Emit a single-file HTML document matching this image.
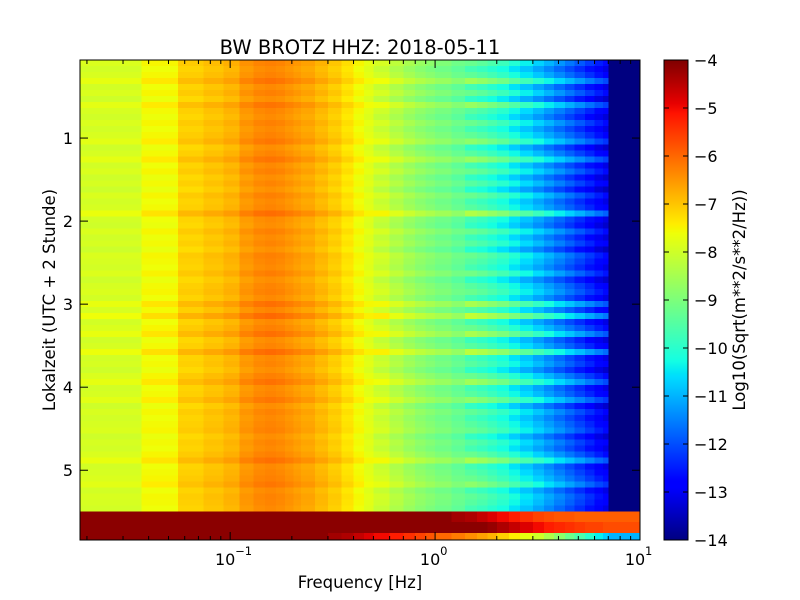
<!DOCTYPE html>
<html><head><meta charset="utf-8"><style>
body{margin:0;background:#fff;}
svg{display:block;font-family:"DejaVu Sans","Liberation Sans",sans-serif;}
</style></head><body>
<svg id="chart" width="800" height="600" xmlns="http://www.w3.org/2000/svg">
<rect width="800" height="600" fill="#fff"/>
<g id="cells" shape-rendering="crispEdges"></g>
<g id="cbar" shape-rendering="crispEdges"></g>
<g id="axes"></g>
<text x="360" y="54" font-size="19.5" text-anchor="middle">BW BROTZ HHZ: 2018-05-11</text>
<text x="360" y="588" font-size="16.5" text-anchor="middle">Frequency [Hz]</text>
<text transform="translate(55,300) rotate(-90)" font-size="16.5" text-anchor="middle">Lokalzeit (UTC + 2 Stunde)</text>
<text transform="translate(745,300) rotate(-90)" font-size="16.5" text-anchor="middle">Log10(Sqrt(m**2/s**2/Hz))</text>
</svg>
<script>
// ---- data ----
const freqEdges=[0.0185,0.037,0.0556,0.0742,0.0927,0.111,0.130,0.148,0.167,0.185,0.204,0.222,0.26,0.3,0.35,0.4,0.45,0.5,0.6,0.7,0.8,0.9,1.0,1.2,1.4,1.6,1.8,2.0,2.3,2.6,3.0,3.4,3.8,4.3,4.8,5.4,6.0,6.6,7.0,10];
const specVals=[-7.9,-7.55,-7.1,-6.95,-6.8,-6.5,-6.35,-6.3,-6.35,-6.45,-6.55,-6.65,-6.85,-7.05,-7.3,-7.55,-7.75,-8.0,-8.3,-8.55,-8.75,-8.9,-9.05,-9.25,-9.45,-9.6,-9.8,-10.0,-10.3,-10.6,-10.9,-11.2,-11.5,-11.8,-12.1,-12.4,-12.7,-12.9,-14.0];
const rowOffsets=[0.1,-0.1,0.05,0.4,-0.1,0.1,-0.2,0.35,0.0,-0.15,0.1,-0.1,0.05,0.3,-0.2,0.0,0.35,-0.1,0.1,-0.2,0.0,-0.25,0.1,-0.1,0.0,0.5,-0.1,-0.2,0.1,-0.15,0.0,-0.25,0.1,0.0,-0.1,0.15,-0.2,0.0,0.1,-0.1,0.45,0.0,0.6,-0.1,0.1,0.45,-0.15,0.0,0.55,-0.1,0.0,-0.2,0.1,0.4,-0.1,0.0,0.3,-0.2,0.05,-0.1,0.0,0.1,-0.2,0.0,-0.1,0.1,0.45,-0.1,0.0,0.1,0.3,-0.1,0.05,0.0,-0.1];
const bandA1=[-4.1,-4.1,-4.1,-4.1,-4.1,-4.1,-4.1,-4.1,-4.1,-4.1,-4.1,-4.1,-4.1,-4.1,-4.1,-4.1,-4.1,-4.1,-4.1,-4.1,-4.1,-4.1,-4.1,-4.3,-4.4,-4.6,-4.8,-5.0,-5.2,-5.4,-5.6,-5.7,-5.8,-5.8,-5.9,-5.9,-5.9,-5.9,-5.9];
const bandA2=[-4.1,-4.1,-4.1,-4.1,-4.1,-4.1,-4.1,-4.1,-4.1,-4.1,-4.1,-4.1,-4.1,-4.1,-4.1,-4.1,-4.1,-4.1,-4.1,-4.1,-4.1,-4.1,-4.1,-4.1,-4.1,-4.1,-4.2,-4.4,-4.6,-4.8,-5.0,-5.2,-5.3,-5.4,-5.5,-5.6,-5.6,-5.7,-5.7];
const bandB=[-4.1,-4.1,-4.1,-4.1,-4.1,-4.1,-4.1,-4.1,-4.1,-4.1,-4.1,-4.1,-4.1,-4.3,-4.4,-4.6,-4.8,-5.0,-5.2,-5.4,-5.6,-5.8,-6.0,-6.2,-6.4,-6.6,-6.8,-7.1,-7.4,-7.7,-8.0,-8.4,-8.8,-9.2,-9.6,-10.0,-10.4,-10.7,-11.0];
const yTicks=[1,2,3,4,5];
const cbTicks=[-4,-5,-6,-7,-8,-9,-10,-11,-12,-13,-14];
const xMajor=[0.1,1,10];
const xMajorLabels=["-1","0","1"];
// ---- scales ----
const X0=80,X1=640,Y0=60,Y1=540;
const fMin=0.0185,fMax=10,tMin=0.06,tMax=5.84,rowDt=0.0725,vMin=-14,vMax=-4;
const xs=f=>X0+(Math.log10(f)-Math.log10(fMin))/(Math.log10(fMax)-Math.log10(fMin))*(X1-X0);
const ys=t=>Y0+(t-tMin)/(tMax-tMin)*(Y1-Y0);
function interp(x,pts){for(let i=1;i<pts.length;i++){if(x<=pts[i][0]){const a=pts[i-1],b=pts[i];return a[1]+(b[1]-a[1])*(x-a[0])/(b[0]-a[0]);}}return pts[pts.length-1][1];}
const JR=[[0,0],[0.35,0],[0.66,1],[0.89,1],[1,0.5]];
const JG=[[0,0],[0.125,0],[0.375,1],[0.64,1],[0.91,0],[1,0]];
const JB=[[0,0.5],[0.11,1],[0.34,1],[0.65,0],[1,0]];
function jet(v){let x=(v-vMin)/(vMax-vMin);x=Math.max(0,Math.min(1,x));
 return `rgb(${Math.round(255*interp(x,JR))},${Math.round(255*interp(x,JG))},${Math.round(255*interp(x,JB))})`;}
const NS="http://www.w3.org/2000/svg";
function mk(tag,attrs,parent){const e=document.createElementNS(NS,tag);for(const k in attrs)e.setAttribute(k,attrs[k]);parent.appendChild(e);return e;}
const cells=document.getElementById('cells');
function drawRow(t0,t1,vals,off){
 for(let j=0;j<vals.length;j++){
  const xa=xs(freqEdges[j]),xb=xs(freqEdges[j+1]);
  const f=freqEdges[j];
  const gain=f>=7.0?0:(f>=1.4?2.2:(f>=0.5?1:0.5));
  const r=mk('rect',{x:xa,y:ys(t0),width:xb-xa+0.5,height:ys(t1)-ys(t0)+0.5,fill:jet(vals[j]+off*gain)},cells);
  
  
 }}
let tEnd=tMin;
rowOffsets.forEach((o,i)=>{const t0=tMin+i*rowDt;tEnd=t0+rowDt;drawRow(t0,tEnd,specVals,o);});
const tb=tEnd,tbStep=(tMax-tb);
drawRow(tb,tb+tbStep*0.36,bandA1,0);
drawRow(tb+tbStep*0.36,tb+tbStep*0.75,bandA2,0);
drawRow(tb+tbStep*0.75,tMax,bandB,0);
// colorbar
const cb=document.getElementById('cbar');
const CX=664,CW=24;
for(let k=0;k<240;k++){const v=vMin+(k+0.5)/240*(vMax-vMin);const y=Y1-(k+1)*2;
 const r=mk('rect',{x:CX,y:y,width:CW,height:2.5,fill:jet(v)},cb);
 
 }
mk('rect',{x:CX,y:Y0,width:CW,height:Y1-Y0,fill:'none',stroke:'#000','stroke-width':1},cb);
const ax=document.getElementById('axes');
mk('rect',{x:X0,y:Y0,width:X1-X0,height:Y1-Y0,fill:'none',stroke:'#000','stroke-width':1},ax);
cbTicks.forEach(v=>{const y=Y1-(v-vMin)/(vMax-vMin)*(Y1-Y0);
 mk('line',{x1:CX,x2:CX+5,y1:y,y2:y,stroke:'#000'},ax);mk('line',{x1:CX+CW-5,x2:CX+CW,y1:y,y2:y,stroke:'#000'},ax);
 const t=mk('text',{x:694,y:y+6,'font-size':16},ax);t.textContent='\u2212'+Math.abs(v);
 
 });
yTicks.forEach(v=>{const y=ys(v);
 mk('line',{x1:X0,x2:X0+8,y1:y,y2:y,stroke:'#000'},ax);mk('line',{x1:X1-8,x2:X1,y1:y,y2:y,stroke:'#000'},ax);
 const t=mk('text',{x:X0-7,y:y+6,'font-size':16,'text-anchor':'end'},ax);t.textContent=v;
 
 });
[0.01,0.1,1].forEach(d=>{for(let m=2;m<=9;m++){const f=d*m;if(f<fMin||f>fMax)continue;const x=xs(f);
 mk('line',{x1:x,x2:x,y1:Y1,y2:Y1-4,stroke:'#000'},ax);mk('line',{x1:x,x2:x,y1:Y0,y2:Y0+4,stroke:'#000'},ax);}});
xMajor.forEach((f,i)=>{const x=xs(f);
 mk('line',{x1:x,x2:x,y1:Y1,y2:Y1-8,stroke:'#000'},ax);mk('line',{x1:x,x2:x,y1:Y0,y2:Y0+8,stroke:'#000'},ax);
 const t=mk('text',{x:x-5,y:565,'font-size':16,'text-anchor':'middle'},ax);t.textContent='10';
 
 
 const s=mk('text',{x:x+5,y:555,'font-size':11.5},ax);s.textContent=xMajorLabels[i]==="-1"?'\u22121':xMajorLabels[i];
 
 });
</script>
</body></html>
